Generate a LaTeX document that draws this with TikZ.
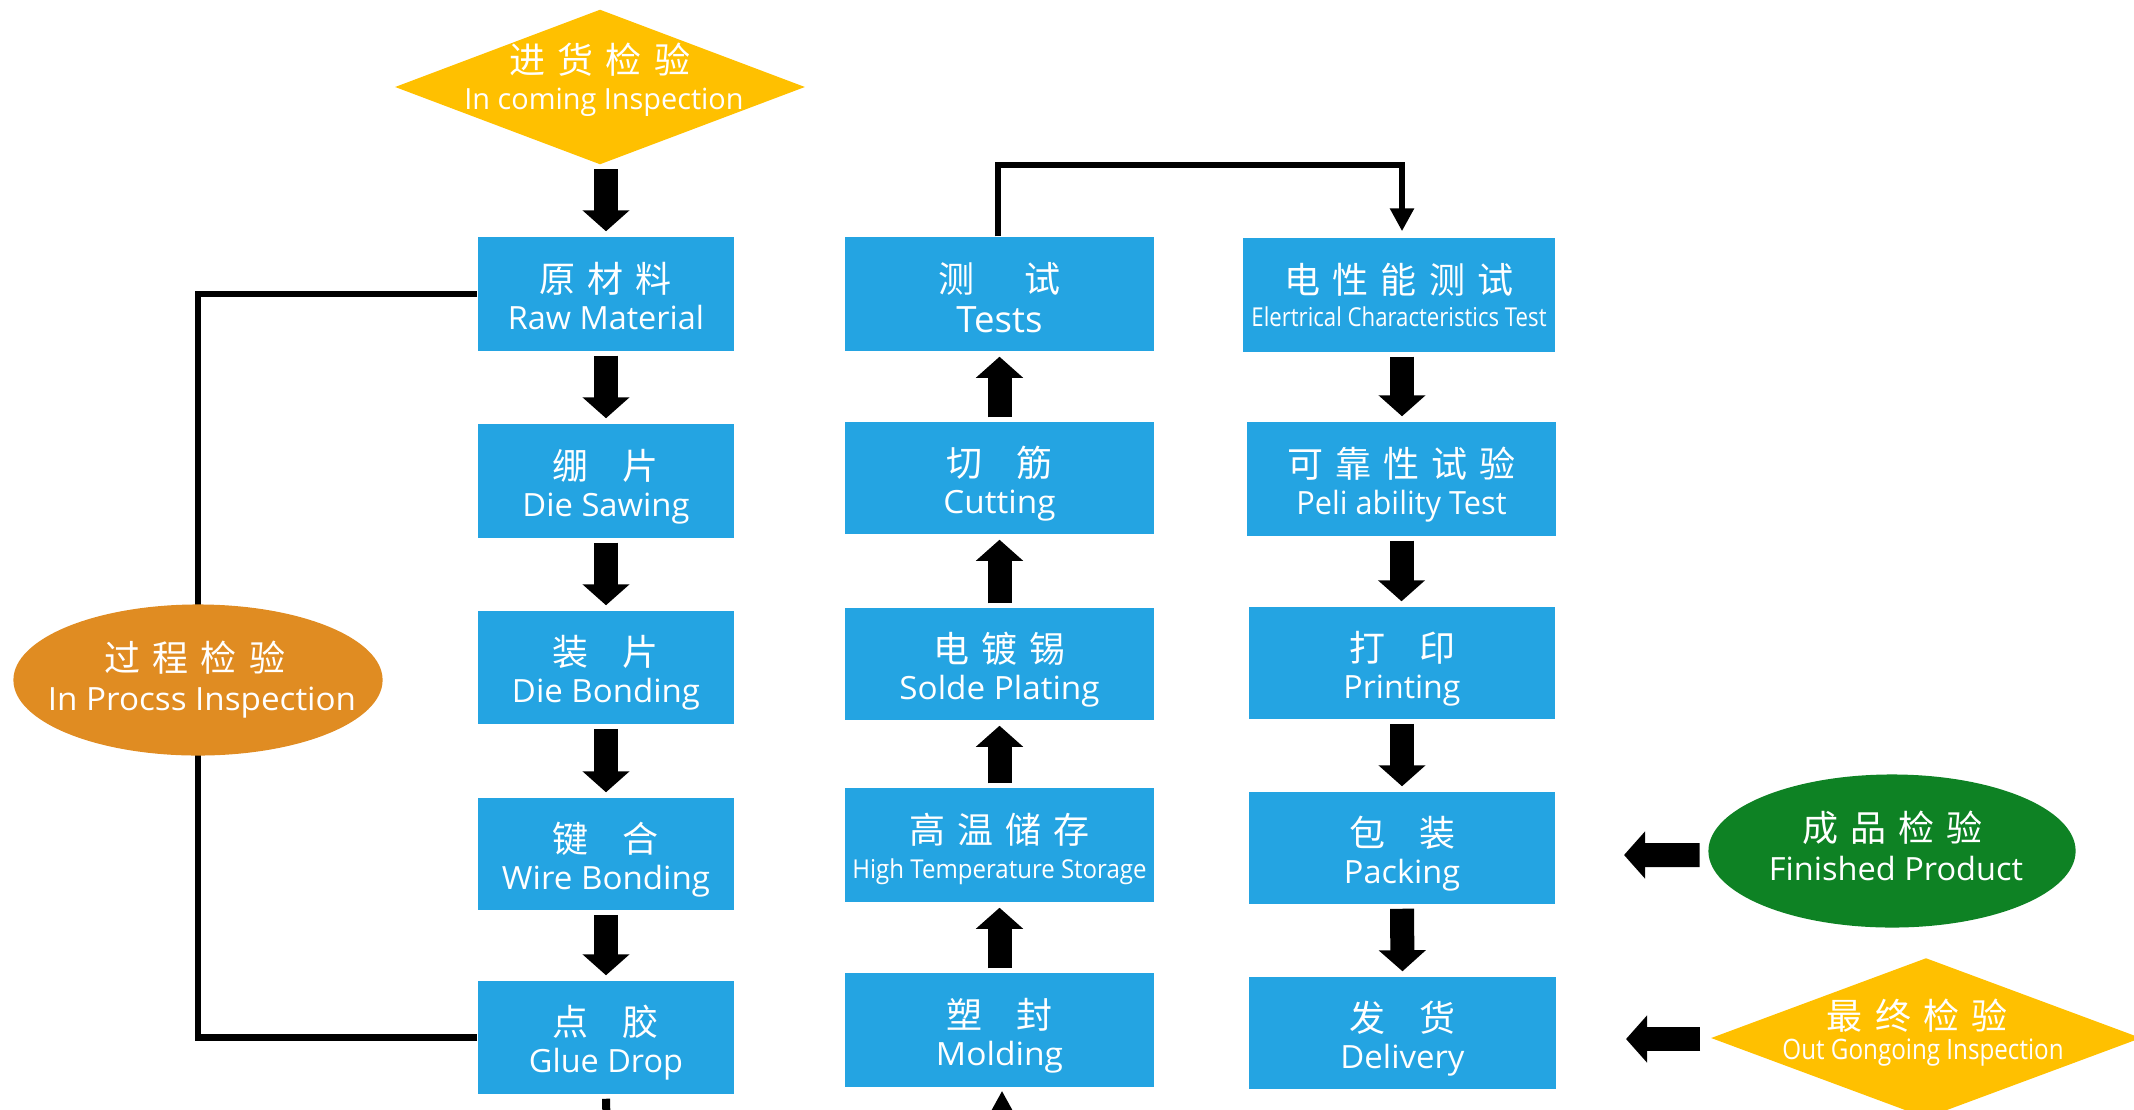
\documentclass[tikz,border=0pt]{standalone}
\usepackage{fontspec}
\usepackage{graphicx}
\setmainfont{Open Sans}
\newfontfamily\cjk{Noto Sans CJK SC}
\newfontfamily\ensf{Open Sans}
\usetikzlibrary{arrows.meta,shapes.geometric}
\definecolor{boxblue}{RGB}{36,164,226}
\definecolor{dyellow}{RGB}{255,192,0}
\definecolor{eorange}{RGB}{224,140,34}
\definecolor{egreen}{RGB}{14,130,36}
\newcommand\gs{\hspace{0.12cm}}
\newcommand\gl{\hspace{0.34cm}}
\newcommand\fw[2]{\resizebox{#1}{\height}{#2}}
\newcommand\procbox[7]{%
  \node[pbox, minimum width=#3, minimum height=#4] (#1) at (#2) {};
  \node[zht] (#1-zh) at ([yshift=0.02cm]#1.center) {#5};
  \node[ent] (#1-en) at ([yshift=-0.35cm+#6]#1.center) {#7};}
\begin{document}
\begin{tikzpicture}[x=0.01cm,y=-0.01cm,
  pbox/.style={rectangle, fill=boxblue, draw=none, inner sep=0pt},
  zht/.style={anchor=base, inner sep=0pt, text=white, font=\cjk\fontsize{10.24pt}{12pt}\selectfont},
  ent/.style={anchor=base, inner sep=0pt, text=white, font=\ensf\fontsize{9.1pt}{11pt}\selectfont},
  barrow/.style={line width=0.24cm, -{Triangle[width=0.46cm,length=0.21cm]}, shorten <=0.04cm, shorten >=0.05cm},
  conn/.style={line width=0.065cm, line join=miter},
  conntip/.style={conn, -{Triangle[width=0.23cm,length=0.23cm]}},
  dshape/.style={diamond, fill=dyellow, draw=none, inner sep=0pt},
  eshape/.style={ellipse, draw=none, inner sep=0pt}]
\useasboundingbox (0,0) rectangle (2134,1109);
\clip (0,0) rectangle (2134,1109);

% process boxes
\procbox{raw}{606,294}{2.56cm}{1.14cm}{原\gs 材\gs 料}{0cm}{\fw{1.96cm}{Raw Material}}
\procbox{saw}{606,481}{2.56cm}{1.14cm}{绷\gl 片}{0cm}{\fw{1.67cm}{Die Sawing}}
\procbox{bond}{606,667.5}{2.56cm}{1.13cm}{装\gl 片}{0cm}{\fw{1.88cm}{Die Bonding}}
\procbox{wire}{606,854}{2.56cm}{1.12cm}{键\gl 合}{0cm}{\fw{2.08cm}{Wire Bonding}}
\procbox{glue}{606,1037.5}{2.56cm}{1.13cm}{点\gl 胶}{0cm}{\fw{1.54cm}{Glue Drop}}

\procbox{tests}{999.5,294}{3.09cm}{1.14cm}{测\hspace{0.49cm}试}{-0.03cm}{{\fontsize{10.3pt}{12pt}\selectfont\fw{0.86cm}{Tests}}}
\procbox{cut}{999.5,478}{3.09cm}{1.12cm}{切\gl 筋}{0cm}{\fw{1.12cm}{Cutting}}
\procbox{plat}{999.5,664}{3.09cm}{1.12cm}{电\gs 镀\gs 锡}{0cm}{\fw{2.00cm}{Solde Plating}}
\procbox{hts}{999.5,845}{3.09cm}{1.14cm}{高\gs 温\gs 储\gs 存}{0.02cm}{{\fontsize{7.4pt}{9pt}\selectfont\fw{2.94cm}{High Temperature Storage}}}
\procbox{mold}{999.5,1030}{3.09cm}{1.14cm}{塑\gl 封}{0cm}{\fw{1.27cm}{Molding}}

\procbox{elec}{1399,295}{3.12cm}{1.14cm}{电\gs 性\gs 能\gs 测\gs 试}{0.04cm}{{\fontsize{7.4pt}{9pt}\selectfont\fw{2.95cm}{Elertrical Characteristics Test}}}
\procbox{rel}{1401.5,479}{3.09cm}{1.14cm}{可\gs 靠\gs 性\gs 试\gs 验}{0cm}{\fw{2.10cm}{Peli ability Test}}
\procbox{print}{1402,663}{3.06cm}{1.12cm}{打\gl 印}{0cm}{\fw{1.17cm}{Printing}}
\procbox{pack}{1402,848}{3.06cm}{1.12cm}{包\gl 装}{0cm}{\fw{1.16cm}{Packing}}
\procbox{deliv}{1402.5,1033}{3.07cm}{1.12cm}{发\gl 货}{0cm}{\fw{1.24cm}{Delivery}}

% in-process bracket (drawn under the ellipse)
\coordinate (bracket) at (198,680);
\draw[conn] (raw.west) -| (bracket) |- (glue.west);
\node[eshape, fill=eorange, minimum width=3.69cm, minimum height=1.51cm] (inproc) at (bracket) {};
\node[zht] (inproc-zh) at ([xshift=-0.03cm,yshift=0.09cm]inproc.center) {过\gs 程\gs 检\gs 验};
\node[ent] (inproc-en) at ([xshift=0.04cm,yshift=-0.30cm]inproc.center) {\fw{3.08cm}{In Procss Inspection}};

% incoming inspection
\node[dshape, minimum width=4.10cm, minimum height=1.55cm] (inc) at (600,87) {};
\node[zht] (inc-zh) at ([yshift=0.13cm]inc.center) {进\gs 货\gs 检\gs 验};
\node[ent] (inc-en) at ([xshift=0.04cm,yshift=-0.22cm]inc.center) {{\fontsize{8.3pt}{10pt}\selectfont\fw{2.79cm}{In coming Inspection}}};

% finished product
\node[eshape, fill=egreen, minimum width=3.67cm, minimum height=1.53cm] (fin) at (1892,851) {};
\node[zht] (fin-zh) at ([yshift=0.10cm]fin.center) {成\gs 品\gs 检\gs 验};
\node[ent] (fin-en) at ([xshift=0.04cm,yshift=-0.29cm]fin.center) {\fw{2.54cm}{Finished Product}};

% out going inspection
\node[dshape, minimum width=4.30cm, minimum height=1.60cm] (outg) at (1926,1038) {};
\node[zht] (outg-zh) at ([xshift=-0.09cm,yshift=0.09cm]outg.center) {最\gs 终\gs 检\gs 验};
\node[ent] (outg-en) at ([xshift=-0.03cm,yshift=-0.21cm]outg.center) {{\fontsize{8pt}{10pt}\selectfont\fw{2.81cm}{Out Gongoing Inspection}}};

% block arrows, column 1
\draw[barrow] (raw.north |- inc.south) -- (raw.north);
\draw[barrow] (raw.south) -- (saw.north);
\draw[barrow] (saw.south) -- (bond.north);
\draw[barrow] (bond.south) -- (wire.north);
\draw[barrow] (wire.south) -- (glue.north);
% column 2 (upwards)
\draw[barrow] (mold.north) -- (hts.south);
\draw[barrow] (hts.north) -- (plat.south);
\draw[barrow] (plat.north) -- (cut.south);
\draw[barrow] (cut.north) -- (tests.south);
% column 3
\draw[barrow] ([xshift=0.03cm]elec.south) -- ([xshift=0.03cm]elec.south |- rel.north);
\draw[barrow] (rel.south) -- (rel.south |- print.north);
\draw[barrow] (print.south) -- (pack.north);
\draw[barrow] (pack.south) -- (deliv.north);
% left arrows
\coordinate (fin-tip) at (1624,855);
\coordinate (outg-tip) at (1626,1039);
\draw[barrow, shorten <=0.08cm, shorten >=0pt] ([yshift=-0.04cm]fin.west) -- (fin-tip);
\draw[barrow, shorten <=0.10cm, shorten >=0pt] ([yshift=-0.01cm]outg.west) -- (outg-tip);

% tests -> electrical test connector
\coordinate (tc) at (1402,165);
\draw[conntip, shorten >=0.06cm] ([xshift=-0.015cm]tests.north) |- (tc) -- (tc |- elec.north);

% stubs at the bottom edge
\coordinate (glue-out) at (607,1140);
\draw[line width=0.08cm] ([yshift=-0.04cm]glue.south) -- (glue-out);
\coordinate (mold-in) at (1002,1160);
\draw[conntip, shorten >=0.03cm] (mold-in) -- (mold-in |- mold.south);
\end{tikzpicture}
\end{document}
